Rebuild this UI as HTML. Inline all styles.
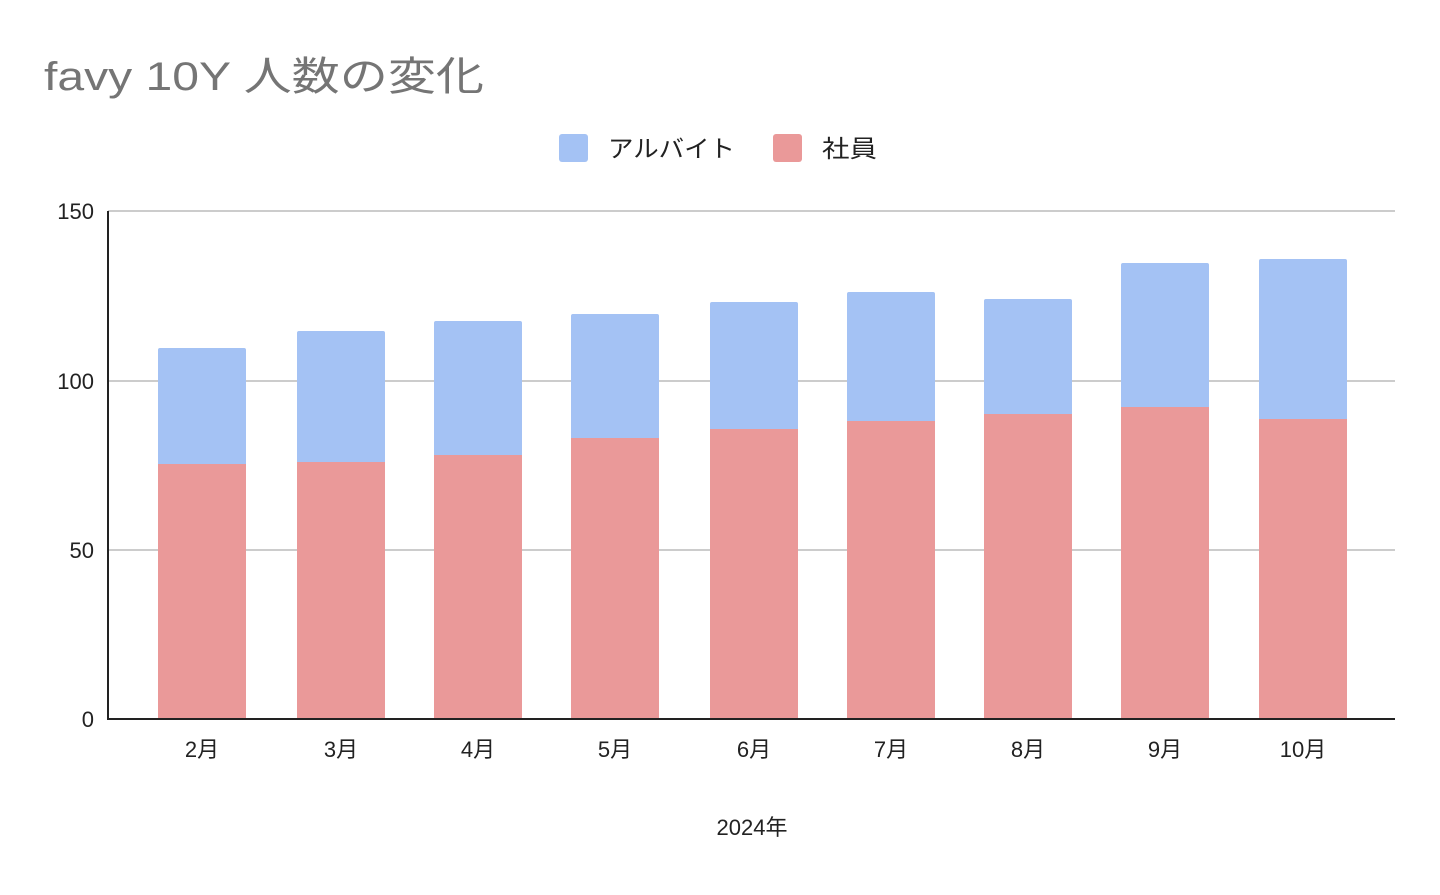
<!DOCTYPE html>
<html><head><meta charset="utf-8"><style>
body{margin:0;background:#fff;}
svg text{font-family:"Liberation Sans","Noto Sans CJK JP",sans-serif;}
</style></head><body>
<svg width="1440" height="890" viewBox="0 0 1440 890" xmlns="http://www.w3.org/2000/svg">
<rect width="1440" height="890" fill="#fff"/>
<text x="44" y="90" font-size="40" fill="#757575" textLength="440" lengthAdjust="spacingAndGlyphs">favy 10Y 人数の変化</text>
<rect x="559" y="134" width="29" height="28" rx="3" fill="#a4c2f4"/>
<text x="608" y="157" font-size="24" fill="#222" textLength="127" lengthAdjust="spacingAndGlyphs">アルバイト</text>
<rect x="773" y="134" width="29" height="28" rx="3" fill="#ea9999"/>
<text x="822" y="157" font-size="24" fill="#222" textLength="55" lengthAdjust="spacingAndGlyphs">社員</text>
<g stroke="#cccccc" stroke-width="2">
<line x1="108" y1="211" x2="1395" y2="211"/>
<line x1="108" y1="381" x2="1395" y2="381"/>
<line x1="108" y1="550" x2="1395" y2="550"/>
</g>
<g font-size="22" fill="#222" text-anchor="end">
<text x="94" y="219">150</text>
<text x="94" y="389">100</text>
<text x="94" y="558">50</text>
<text x="94" y="727">0</text>
</g>
<g fill="#a4c2f4">
<rect x="158" y="348" width="88" height="118" rx="2"/>
<rect x="297" y="331" width="88" height="133" rx="2"/>
<rect x="434" y="321" width="88" height="136" rx="2"/>
<rect x="571" y="314" width="88" height="126" rx="2"/>
<rect x="710" y="302" width="88" height="129" rx="2"/>
<rect x="847" y="292" width="88" height="131" rx="2"/>
<rect x="984" y="299" width="88" height="117" rx="2"/>
<rect x="1121" y="263" width="88" height="146" rx="2"/>
<rect x="1259" y="259" width="88" height="162" rx="2"/>
</g>
<g fill="#ea9999">
<rect x="158" y="464" width="88" height="255"/>
<rect x="297" y="462" width="88" height="257"/>
<rect x="434" y="455" width="88" height="264"/>
<rect x="571" y="438" width="88" height="281"/>
<rect x="710" y="429" width="88" height="290"/>
<rect x="847" y="421" width="88" height="298"/>
<rect x="984" y="414" width="88" height="305"/>
<rect x="1121" y="407" width="88" height="312"/>
<rect x="1259" y="419" width="88" height="300"/>
</g>
<line x1="108" y1="211" x2="108" y2="720" stroke="#222" stroke-width="2"/>
<line x1="107" y1="719" x2="1395" y2="719" stroke="#222" stroke-width="2"/>
<g font-size="22" fill="#222" text-anchor="middle">
<text x="202" y="757">2月</text>
<text x="341" y="757">3月</text>
<text x="478" y="757">4月</text>
<text x="615" y="757">5月</text>
<text x="754" y="757">6月</text>
<text x="891" y="757">7月</text>
<text x="1028" y="757">8月</text>
<text x="1165" y="757">9月</text>
<text x="1303" y="757">10月</text>
<text x="752" y="835">2024年</text>
</g>
</svg>
</body></html>
